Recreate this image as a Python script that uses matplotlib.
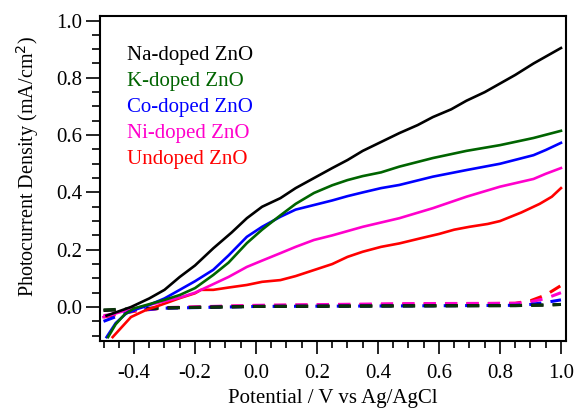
import numpy as np
import matplotlib
matplotlib.use("Agg")
import matplotlib.pyplot as plt
from matplotlib.ticker import MultipleLocator, FormatStrFormatter

# --- dati (solid = luce, dashed = buio) ---
labels = ["Na-doped ZnO", "K-doped ZnO", "Co-doped ZnO", "Ni-doped ZnO", "Undoped ZnO"]
colors = ["#000000", "#006400", "#0000ff", "#ff00cc", "#ff0000"]

na_x = [-0.49, -0.45, -0.41, -0.35, -0.3, -0.25, -0.2, -0.14, -0.08, -0.03, 0.02, 0.08, 0.13, 0.19,
        0.25, 0.3, 0.35, 0.41, 0.47, 0.53, 0.58, 0.64, 0.69, 0.75, 0.8, 0.85, 0.91, 0.96, 1.0]
na_y = [-0.03, -0.015, 0.0, 0.03, 0.06, 0.105, 0.145, 0.205, 0.26, 0.31, 0.35, 0.38, 0.415, 0.45,
        0.485, 0.513, 0.545, 0.576, 0.607, 0.635, 0.663, 0.69, 0.72, 0.75, 0.78, 0.81, 0.85, 0.88, 0.904]

k_x = [-0.485, -0.46, -0.43, -0.4, -0.36, -0.3, -0.25, -0.2, -0.14, -0.09, -0.03, 0.02, 0.08, 0.13,
       0.19, 0.25, 0.3, 0.35, 0.41, 0.47, 0.58, 0.69, 0.8, 0.91, 1.0]
k_y = [-0.105, -0.06, -0.025, -0.005, 0.007, 0.025, 0.042, 0.066, 0.112, 0.155, 0.223, 0.27, 0.32, 0.36,
       0.398, 0.425, 0.443, 0.457, 0.47, 0.49, 0.52, 0.545, 0.565, 0.59, 0.615]

co_x = [-0.49, -0.46, -0.42, -0.36, -0.3, -0.25, -0.2, -0.14, -0.09, -0.03, 0.02, 0.08, 0.13, 0.19,
        0.25, 0.3, 0.35, 0.41, 0.47, 0.58, 0.69, 0.8, 0.91, 0.95, 1.0]
co_y = [-0.105, -0.056, -0.017, 0.003, 0.03, 0.06, 0.09, 0.13, 0.18, 0.245, 0.28, 0.315, 0.34, 0.356,
        0.372, 0.387, 0.40, 0.415, 0.426, 0.455, 0.478, 0.50, 0.53, 0.548, 0.573]

ni_x = [-0.5, -0.42, -0.36, -0.3, -0.25, -0.2, -0.14, -0.09, -0.03, 0.02, 0.08, 0.13, 0.19, 0.25,
        0.3, 0.35, 0.41, 0.47, 0.58, 0.69, 0.8, 0.91, 0.95, 1.0]
ni_y = [-0.035, -0.01, 0.005, 0.02, 0.033, 0.05, 0.08, 0.105, 0.14, 0.162, 0.188, 0.21, 0.234, 0.25,
        0.265, 0.28, 0.295, 0.31, 0.345, 0.385, 0.42, 0.447, 0.465, 0.485]

un_x = [-0.47, -0.44, -0.41, -0.36, -0.31, -0.25, -0.2, -0.18, -0.14, -0.09, -0.03, 0.02, 0.08, 0.13,
        0.19, 0.25, 0.3, 0.35, 0.41, 0.47, 0.54, 0.6, 0.65, 0.7, 0.76, 0.8, 0.87, 0.93, 0.97, 1.0]
un_y = [-0.105, -0.07, -0.035, -0.01, 0.008, 0.031, 0.048, 0.06, 0.06, 0.068, 0.077, 0.088, 0.094, 0.108,
        0.129, 0.15, 0.175, 0.193, 0.21, 0.222, 0.24, 0.255, 0.27, 0.28, 0.29, 0.30, 0.33, 0.36, 0.385, 0.415]

# buio
dark_x = [-0.5, -0.45, -0.4, -0.3, 0.0, 0.5, 0.85, 0.9, 0.95, 1.0]
dark_un = [-0.035, -0.025, -0.015, -0.003, 0.005, 0.01, 0.013, 0.022, 0.042, 0.075]
dark_ni = [-0.03, -0.022, -0.012, -0.002, 0.006, 0.012, 0.013, 0.018, 0.03, 0.05]
dark_co = [-0.05, -0.03, -0.012, -0.004, 0.002, 0.004, 0.006, 0.009, 0.016, 0.025]
dark_na = [-0.012, -0.01, -0.007, -0.003, 0.002, 0.004, 0.005, 0.006, 0.007, 0.009]
dark_k = [-0.01, -0.008, -0.006, -0.003, 0.002, 0.004, 0.005, 0.006, 0.007, 0.009]

plt.rcParams['font.family'] = ['Liberation Serif', 'DejaVu Serif']

fig = plt.figure(figsize=(5.76, 4.13), dpi=100)
ax = fig.add_axes([0.1736, 0.175, 0.809, 0.787])

dark = [(dark_un, "#ff0000"), (dark_ni, "#ff00cc"), (dark_co, "#0000ff"),
        (dark_na, "#000000"), (dark_k, "#0a330a")]
for yy, c in dark:
    ax.plot(dark_x, yy, color=c, lw=2.2, dashes=(4, 3))

solid = [(un_x, un_y, colors[4]), (ni_x, ni_y, colors[3]), (co_x, co_y, colors[2]),
         (k_x, k_y, colors[1]), (na_x, na_y, colors[0])]
for xx, yy, c in solid:
    ax.plot(xx, yy, color=c, lw=1.9, solid_joinstyle='round')

ax.set_xlim(-0.5115, 1.0164)
ax.set_ylim(-0.1176, 1.0168)

ax.xaxis.set_major_locator(MultipleLocator(0.2))
ax.xaxis.set_minor_locator(MultipleLocator(0.05))
ax.yaxis.set_major_locator(MultipleLocator(0.2))
ax.yaxis.set_minor_locator(MultipleLocator(0.05))
ax.xaxis.set_major_formatter(FormatStrFormatter('%.1f'))
ax.yaxis.set_major_formatter(FormatStrFormatter('%.1f'))

ax.tick_params(which='major', direction='out', length=10, width=1.2, labelsize=15)
ax.tick_params(which='minor', direction='out', length=6, width=1.2)
ax.tick_params(axis='x', which='major', length=9, pad=8)
ax.tick_params(axis='x', which='minor', length=5)
ax.tick_params(axis='y', which='major', pad=3)
for s in ax.spines.values():
    s.set_linewidth(1.5)

ax.set_xlabel("Potential / V vs Ag/AgCl", fontsize=15, labelpad=4)
ax.set_ylabel("Photocurrent Density (mA/cm$^2$)", fontsize=14.5)
ax.yaxis.set_label_coords(-0.127, 0.537)

for i, (lab, c) in enumerate(zip(labels, colors)):
    ax.text(0.058, 0.879 - i * 0.08, lab, color=c, fontsize=15,
            transform=ax.transAxes, va='center', ha='left')

fig.savefig("out.png", dpi=100)
